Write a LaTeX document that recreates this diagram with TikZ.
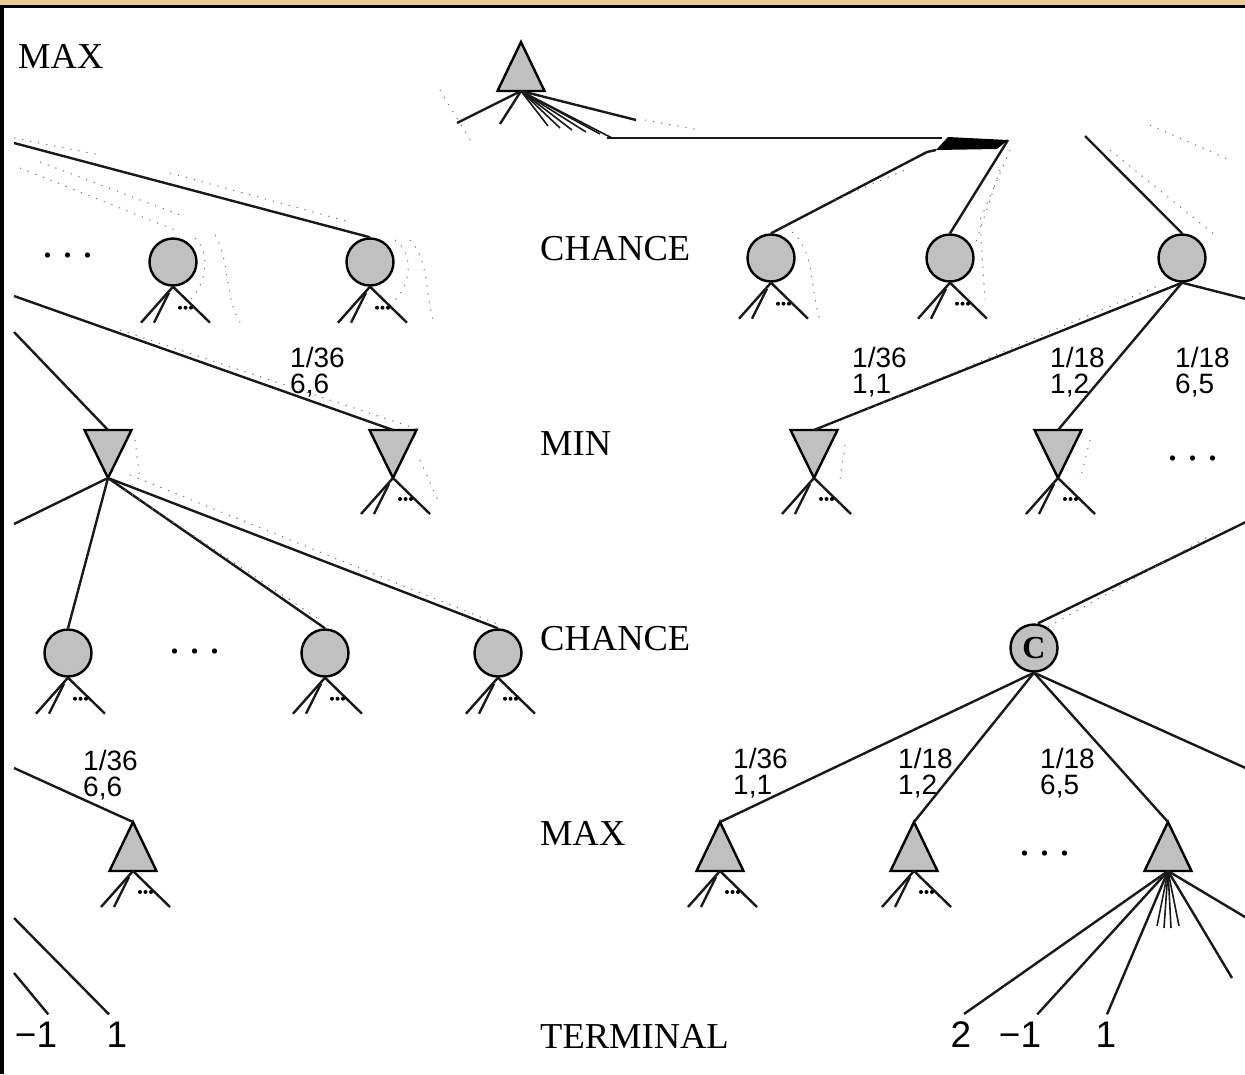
\documentclass[tikz,border=0pt]{standalone}
\usepackage{fontspec}
\setmainfont{Liberation Serif}
\newfontfamily\numfont{Liberation Sans}
\usetikzlibrary{calc}

\definecolor{nodegray}{RGB}{192,192,192}
\definecolor{framegold}{RGB}{230,203,148}

\tikzset{
  edge/.style={line width=2.4pt, draw=black!90},
  ghost/.style={line width=1pt, draw=black!55, dash pattern=on 1.2pt off 7pt},
  shapeline/.style={draw=black, line width=2.4pt, fill=nodegray, line join=miter},
  chance/.style={circle, shapeline, minimum size=47pt, inner sep=0pt},
  lvl/.style={font=\fontsize{36.5}{40}\selectfont, anchor=base west, inner sep=0pt},
  dots/.style={font=\fontsize{44}{44}\selectfont, anchor=base west, inner sep=0pt},
  prob/.style={font=\numfont\fontsize{28}{26}\selectfont, align=left, anchor=north west, inner sep=0pt},
  term/.style={font=\numfont\fontsize{37}{40}\selectfont, anchor=base, inner sep=0pt},
  % MAX node: upward triangle, apex on top
  maxtri/.pic={
    \path[shapeline] (0,-25) -- (23.5,24) -- (-23.5,24) -- cycle;
    \coordinate (-apex) at (0,-25);
    \coordinate (-base) at (0,24);
  },
  % MIN node: downward triangle, apex at the bottom
  mintri/.pic={
    \path[shapeline] (-23.5,-24) -- (23.5,-24) -- (0,24) -- cycle;
    \coordinate (-top) at (0,-24);
    \coordinate (-apex) at (0,24);
  },
  % elided subtree below a node
  stub/.pic={
    \draw[edge] (0,0) -- (-32,36);
    \draw[edge] (-4,6) -- (-19,36);
    \draw[edge] (0,0) -- (37,36);
    \foreach \d in {7,12.5,18} \fill (\d,21) circle (2pt);
  }
}

\begin{document}
\begin{tikzpicture}[x=1pt,y=-1pt]
\useasboundingbox (0,0) rectangle (1245,1074);
\clip (0,0) rectangle (1245,1074);
\fill[white] (0,0) rectangle (1245,1074);
\fill[framegold] (0,0) rectangle (1245,4.5);
\fill[black] (0,4.5) rectangle (1245,7.5);
\fill[black] (0,4.5) rectangle (3.5,1074);

% ---- level labels ----
\node[lvl] (lmax0) at (18,68) {MAX};
\node[lvl] (lch1) at (540,260) {CHANCE};
\node[lvl] (lmin) at (540,455) {MIN};
\node[lvl] (lch2) at (540,650) {CHANCE};
\node[lvl] (lmax1) at (540,845) {MAX};
\node[lvl] (lterm) at (540,1048) {TERMINAL};

% ---- root ----
\pic (root) at (521,67) {maxtri};

% ---- first chance layer ----
\node[chance] (ca1) at (173,262) {};
\node[chance] (ca2) at (370,262) {};
\node[chance] (ca3) at (771,258) {};
\node[chance] (ca4) at (950,258) {};
\node[chance] (ca5) at (1182,258) {};
\node[dots] (da) at (42,257) {.\hspace{9pt}.\hspace{9pt}.};

% ---- min layer ----
\pic (mn1) at (108,454) {mintri};
\pic (mn2) at (393,454) {mintri};
\pic (mn3) at (814,454) {mintri};
\pic (mn4) at (1058,454) {mintri};
\node[dots] (db) at (1167,460) {.\hspace{9pt}.\hspace{9pt}.};

% ---- second chance layer ----
\node[chance] (cb1) at (68,653) {};
\node[chance] (cb2) at (325,653) {};
\node[chance] (cb3) at (498,653) {};
\node[chance, font=\bfseries\fontsize{32}{32}\selectfont] (cc) at (1034,648) {C};
\node[dots] (dc) at (169,653) {.\hspace{9pt}.\hspace{9pt}.};

% ---- max layer ----
\pic (mx1) at (133,847) {maxtri};
\pic (mx2) at (720,847) {maxtri};
\pic (mx3) at (914,847) {maxtri};
\pic (mx4) at (1168,847) {maxtri};
\node[dots] (dd) at (1019,855) {.\hspace{9pt}.\hspace{9pt}.};

% ---- terminal values ----
\node[term] (t1) at (36,1047) {−1};
\node[term] (t2) at (117,1047) {1};
\node[term] (t3) at (961,1047) {2};
\node[term] (t4) at (1020,1047) {−1};
\node[term] (t5) at (1106,1047) {1};

% ---- free ends at the picture border ----
\coordinate (e1) at (14,143);
\coordinate (e2) at (14,296);
\coordinate (e3) at (14,332);
\coordinate (e4) at (14,524);
\coordinate (e5) at (1250,300);
\coordinate (e6) at (1250,520);
\coordinate (e7) at (1250,770);
\coordinate (e8) at (14,768);
\coordinate (e9) at (14,918);
\coordinate (e10) at (14,973);
\coordinate (e11) at (1250,920);
\coordinate (e12) at (1232,978);

% ---- root fan and crossing bundle ----
\coordinate (h0) at (607,138);
\coordinate (h1) at (942,138);
\coordinate (h2) at (1008,140);
\coordinate (h3) at (936,150);
\coordinate (h4) at (1085,136);
\draw[edge] (root-base) -- (457,123);
\draw[edge] (root-base) -- (500,124);
\foreach \p in {(548,126),(560,128),(572,130),(586,132),(600,134),(612,138)}
  \draw[edge, line width=1.6pt] (root-base) -- \p;
\draw[edge] (root-base) -- (636,120);
\draw[edge] (h0) -- (h1);
\fill[black] (h3) -- (948,137) -- (h2) -- (997,149) -- cycle;
\draw[edge] (h3) -- (927,152) -- (ca3.north);
\draw[edge] (h2) -- (ca4.north);
\draw[edge] (h4) -- (ca5.north);
\draw[edge] (e1) -- (ca2.north);

% ---- chance -> min edges ----
\draw[edge] (e3) -- (mn1-top);
\draw[edge] (e2) -- (mn2-top);
\draw[edge] (ca5.south) -- (mn3-top);
\draw[edge] (ca5.south) -- (mn4-top);
\draw[edge] (ca5.south) -- (e5);
\node[prob] (p1) at (290,347) {1/36\\6,6};
\node[prob] (p2) at (852,347) {1/36\\1,1};
\node[prob] (p3) at (1050,347) {1/18\\1,2};
\node[prob] (p4) at (1175,347) {1/18\\6,5};

% ---- min -> chance edges ----
\draw[edge] (mn1-apex) -- (e4);
\draw[edge] (mn1-apex) -- (cb1.north);
\draw[edge] (mn1-apex) -- (cb2.north);
\draw[edge] (mn1-apex) -- (cb3.north);
\draw[edge] (cc.north) ++(4,0) -- (e6);

% ---- chance -> max edges ----
\draw[edge] (e8) -- (mx1-apex);
\draw[edge] (cc.south) -- (mx2-apex);
\draw[edge] (cc.south) -- (mx3-apex);
\draw[edge] (cc.south) -- (mx4-apex);
\draw[edge] (cc.south) -- (e7);
\node[prob] (p5) at (83,750) {1/36\\6,6};
\node[prob] (p6) at (733,748) {1/36\\1,1};
\node[prob] (p7) at (898,748) {1/18\\1,2};
\node[prob] (p8) at (1040,748) {1/18\\6,5};

% ---- max -> terminal edges ----
\draw[edge] (e9) -- ($(t2.north)+(-8,-7)$);
\draw[edge] (e10) -- ($(t1.north east)+(-9,-7)$);
\draw[edge] (mx4-base) -- ($(t3.north)+(3,-7)$);
\draw[edge] (mx4-base) -- ($(t4.north east)+(-4,-7)$);
\draw[edge] (mx4-base) -- ($(t5.north)+(1,-7)$);
\foreach \p in {(1157,926),(1164,928),(1171,928),(1179,926)}
  \draw[edge, line width=1.6pt] (mx4-base) -- \p;
\draw[edge] (mx4-base) -- (e11);
\draw[edge] (mx4-base) -- (e12);

% ---- elided subtrees ----
\foreach \n in {ca1,ca2,ca3,ca4,cb1,cb2,cb3} \pic at (\n.south) {stub};
\foreach \n in {mn2,mn3,mn4} \pic at (\n-apex) {stub};
\foreach \n in {mx1,mx2,mx3} \pic at (\n-base) {stub};

% ---- faint dotted traces beside the edges ----
\draw[ghost] (14,138) -- (100,155);
\draw[ghost] (170,173) -- (350,222);
\draw[ghost] (20,168) -- (175,230);
\draw[ghost] (40,162) -- (180,215);
\draw[ghost] (395,240) .. controls (415,255) and (410,285) .. (395,300);
\draw[ghost] (410,240) .. controls (430,260) and (425,300) .. (435,325);
\draw[ghost] (195,238) .. controls (212,255) and (205,285) .. (190,300);
\draw[ghost] (215,235) .. controls (230,260) and (225,300) .. (240,322);
\draw[ghost] (792,232) .. controls (815,250) and (810,290) .. (820,320);
\draw[ghost] (1010,150) -- (980,220) -- (985,300);
\draw[ghost] (1000,170) -- (975,245);
\draw[ghost] (835,200) -- (905,170);
\draw[ghost] (1110,150) -- (1215,235);
\draw[ghost] (1150,125) -- (1230,160);
\draw[ghost] (645,120) -- (700,130);
\draw[ghost] (440,90) -- (470,140);
\draw[ghost] (420,460) -- (440,505);
\draw[ghost] (135,440) -- (140,480);
\draw[ghost] (845,445) -- (840,480);
\draw[ghost] (1090,440) -- (1080,480);
\draw[ghost] (130,475) -- (500,625);
\draw[ghost] (125,490) -- (320,620);
\draw[ghost] (830,425) -- (1160,285);
\draw[ghost] (1048,627) -- (1220,530);
\draw[ghost] (120,330) -- (420,430);
\end{tikzpicture}
\end{document}
